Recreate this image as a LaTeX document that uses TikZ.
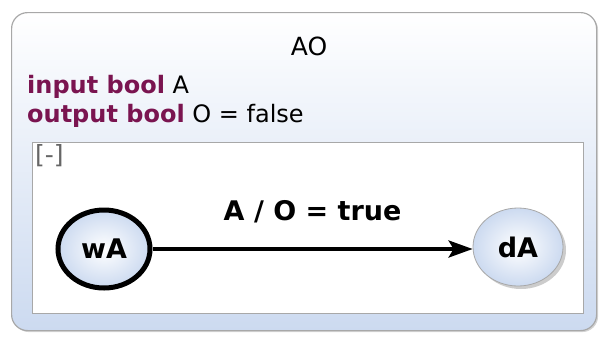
\documentclass[tikz,border=0pt]{standalone}
\usepackage{fontspec}
\setmainfont{DejaVu Sans}
\usetikzlibrary{arrows.meta,shadows,shapes.geometric}
\definecolor{kw}{HTML}{7A1450}
\definecolor{lblue}{HTML}{CCDAF0}
\definecolor{bord}{HTML}{A8A8A8}
\tikzset{
  outerbox/.style={draw=bord, line width=1.2pt, rounded corners=16pt, top color=white, bottom color=lblue, drop shadow={shadow xshift=1.5pt, shadow yshift=-1.5pt, opacity=0.35}},
  innerbox/.style={draw=bord, line width=1pt, fill=white},
  statenode/.style={ellipse, inner sep=0pt, shading=radial, inner color=white, outer color=lblue, font=\bfseries\fontsize{27}{30}\selectfont},
  initstate/.style={statenode, draw=black, line width=5pt},
  finalstate/.style={statenode, draw=bord, line width=0.8pt, drop shadow={shadow xshift=3pt, shadow yshift=-3pt, opacity=0.4}},
  trans/.style={-{Stealth[length=24pt,width=17pt,inset=5pt]}, line width=3.8pt}
}
\begin{document}
\begin{tikzpicture}[x=1pt,y=-1pt]
\useasboundingbox (0,0) rectangle (604,338);
\node[outerbox, minimum width=585pt, minimum height=318pt, anchor=north west] (outer) at (11,12) {};
\node[innerbox, minimum width=551pt, minimum height=171pt, anchor=north west] (inner) at (32,142) {};
\node[font=\fontsize{25}{28}\selectfont, anchor=base, inner sep=0pt] (title) at (309,55) {AO};
\node[font=\fontsize{24}{27}\selectfont, anchor=base west, inner sep=0pt] (decl1) at (27,93) {\textcolor{kw}{\bfseries input bool} A};
\node[font=\fontsize{24}{27}\selectfont, anchor=base west, inner sep=0pt] (decl2) at (27,122) {\textcolor{kw}{\bfseries output bool} O = false};
\node[font=\fontsize{25}{28}\selectfont, text=black!60, anchor=north west, inner sep=0pt] (region) at (35,144) {[-]};
\node[initstate, minimum width=92pt, minimum height=78pt] (wA) at (104,249) {wA};
\node[finalstate, minimum width=90pt, minimum height=78pt] (dA) at (518,247) {dA};
\draw[trans] (wA) -- node[above=21pt, font=\bfseries\fontsize{27}{30}\selectfont] (lbl) {A / O = true} (dA.west |- wA);
\end{tikzpicture}
\end{document}
